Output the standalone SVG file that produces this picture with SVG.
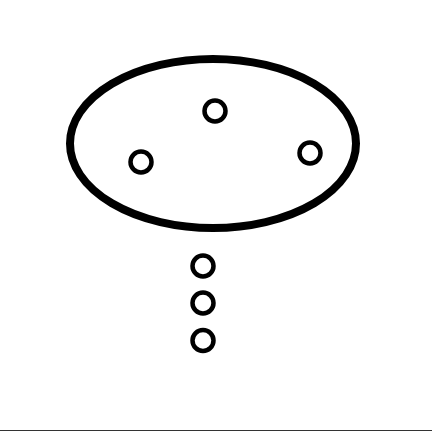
<svg xmlns="http://www.w3.org/2000/svg" width="432" height="432" viewBox="0 0 432 432">
<style>
.big{fill:none;stroke:#000;stroke-width:8}
.dot{fill:none;stroke:#000;stroke-width:4.5}
</style>
<rect width="432" height="432" fill="#fff"/>
<g id="set"><ellipse class="big" cx="213" cy="143.5" rx="143" ry="84.5"/></g>
<g id="n1"><circle class="dot" cx="215" cy="111" r="10.5"/></g>
<g id="n2"><circle class="dot" cx="141" cy="162" r="10.5"/></g>
<g id="n3"><circle class="dot" cx="310" cy="153" r="10.5"/></g>
<g id="n4"><circle class="dot" cx="203" cy="266" r="10.5"/></g>
<g id="n5"><circle class="dot" cx="203" cy="303" r="10.5"/></g>
<g id="n6"><circle class="dot" cx="203" cy="340.5" r="10.5"/></g>
<g id="connectors"></g>
<line x1="0" y1="430.5" x2="432" y2="430.5" stroke="#333" stroke-width="1.2"/>
</svg>
